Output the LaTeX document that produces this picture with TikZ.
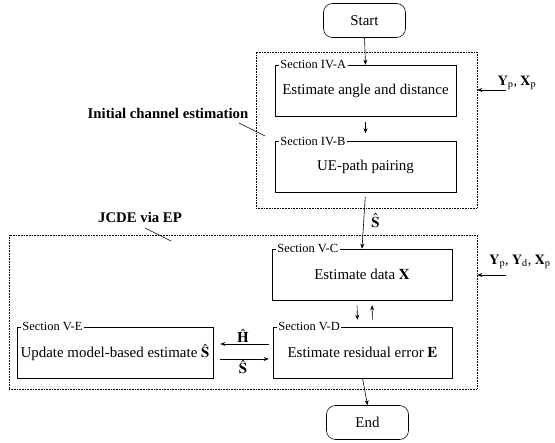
\documentclass[tikz,border=0pt]{standalone}
\usepackage{mathptmx}
\usepackage[no-math]{fontspec}
\setmainfont{Liberation Serif}
\usetikzlibrary{arrows.meta,positioning}

\tikzset{
  >={Stealth[length=5pt,width=4pt]},
  stepbox/.style={draw, line width=0.6pt, minimum width=181bp, minimum height=51bp,
    inner sep=1pt, font=\fontsize{15}{17}\selectfont},
  term/.style={draw, line width=0.6pt, rounded corners=9pt, minimum width=82bp,
    minimum height=34bp, font=\fontsize{15}{17}\selectfont},
  seclabel/.style={fill=white, inner sep=1.5pt, anchor=west, font=\fontsize{12.5}{14}\selectfont},
  group/.style={draw, densely dotted, line width=0.6pt},
  grouplabel/.style={font=\fontsize{14.8}{17}\selectfont\bfseries},
  flow/.style={->, line width=0.6pt}
}

\begin{document}
\begin{tikzpicture}[x=1bp,y=-1bp]
\useasboundingbox (0,0) rectangle (555,443);

% the two stages
\node (initgrp) [group, minimum width=221bp, minimum height=156bp] at (366.5,130) {};
\node (jcdegrp) [group, minimum width=468bp, minimum height=154bp] at (243,312) {};

% terminals
\node (start) [term] at (364.5,20.5) {Start};
\node (end) [term] at (367.5,422.5) {End};

% steps
\node (angle) [stepbox] at (365.5,90.5) {Estimate angle and distance};
\node (pair) [stepbox] at (365.5,167) {UE-path pairing};
\node (data) [stepbox, minimum width=180bp] at (362,274.5) {Estimate data $\mathbf{X}$};
\node (resid) [stepbox, minimum width=179bp] at (362.5,352.5) {Estimate residual error $\mathbf{E}$};
\node (update) [stepbox, minimum width=196bp] at (115,352.5) {Update model-based estimate $\hat{\mathbf{S}}$};

% section tags on the box tops
\node [seclabel] at ([xshift=4bp]angle.north west) {Section IV-A};
\node [seclabel] at ([xshift=4bp]pair.north west) {Section IV-B};
\node [seclabel] at ([xshift=4bp]data.north west) {Section V-C};
\node [seclabel] at ([xshift=4bp]resid.north west) {Section V-D};
\node [seclabel] at ([xshift=4bp]update.north west) {Section V-E};

% main flow
\draw[flow] (start.south) -- (angle.north);
\draw[flow, shorten <=6bp, shorten >=8bp] (angle.south) -- (pair.north);
\draw[flow, shorten <=4bp] (pair.south) -- node[right=4bp, font=\fontsize{15}{17}\selectfont] {$\hat{\mathbf{S}}$} (data.north);
\draw[flow, shorten <=5bp, shorten >=7bp] ([xshift=-5bp]data.south) -- ([xshift=-5bp]resid.north);
\draw[flow, shorten <=7bp, shorten >=5bp] ([xshift=10bp]resid.north) -- ([xshift=10bp]data.south);
\draw[flow] (resid.south) -- (end.north);

% exchange with the model-based update
\draw[flow, shorten <=4bp, shorten >=7bp] ([yshift=8.5bp]resid.west) -- node[above=0bp, inner sep=1pt, font=\fontsize{15}{17}\selectfont] {$\hat{\mathbf{H}}$} ([yshift=8.5bp]update.east);
\draw[flow, shorten <=7bp, shorten >=4bp] ([yshift=-6.5bp]update.east) -- node[below=0bp, inner sep=1pt, font=\fontsize{15}{17}\selectfont] {$\hat{\mathbf{S}}$} ([yshift=-6.5bp]resid.west);

% inputs from the right
\coordinate (pilot) at (506,90);
\coordinate (allin) at (506,275);
\draw[flow] (pilot) -- (pilot -| initgrp.east);
\draw[flow] (allin) -- (allin -| jcdegrp.east);
\node (pilotlab) [font=\fontsize{14}{16}\selectfont] at (517,83) {$\mathbf{Y}_{\mathrm{p}}$, $\mathbf{X}_{\mathrm{p}}$};
\node (alllab) [font=\fontsize{14}{16}\selectfont] at (520,262) {$\mathbf{Y}_{\mathrm{p}}$, $\mathbf{Y}_{\mathrm{d}}$, $\mathbf{X}_{\mathrm{p}}$};

% stage names
\node (initname) [grouplabel] at (168,113) {Initial channel estimation};
\node (jcdename) [grouplabel] at (140,217) {JCDE via EP};
\coordinate (inittip) at (265,136);
\coordinate (jcdetip) at (171,241);
\draw[line width=0.6pt] (239,123) -- (inittip);
\draw[line width=0.6pt] (145,228) -- (jcdetip);
\end{tikzpicture}
\end{document}
